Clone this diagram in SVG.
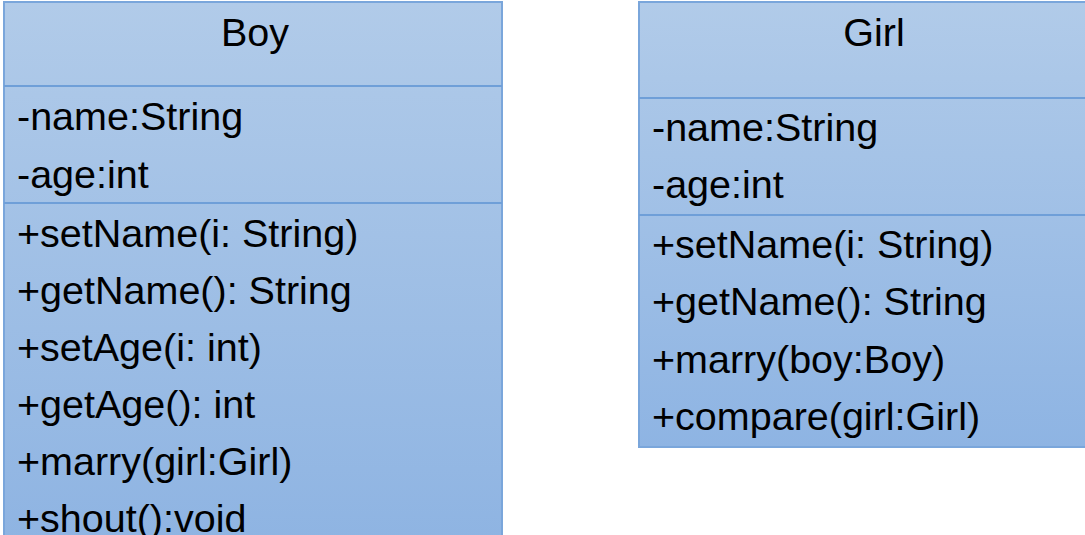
<svg xmlns="http://www.w3.org/2000/svg" width="1085" height="535" viewBox="0 0 1085 535">
<defs>
<linearGradient id="fillBoy" x1="0" y1="0" x2="0" y2="1">
<stop offset="0" stop-color="#B1CBE9"/>
<stop offset="1" stop-color="#8DB3E2"/>
</linearGradient>
<linearGradient id="fillGirl" x1="0" y1="0" x2="0" y2="1">
<stop offset="0" stop-color="#B1CBE9"/>
<stop offset="1" stop-color="#8EB4E3"/>
</linearGradient>
</defs>
<style>
.box{stroke:#7AA6DB;stroke-width:2}
.div{stroke:#6F9FD8;stroke-width:2}
text{font-family:"Liberation Sans",Arial,sans-serif;font-size:39.5px;fill:#000}
.title{text-anchor:middle}
</style>
<rect width="1085" height="535" fill="#FFFFFF"/>
<g id="Boy">
<rect class="box" x="4" y="2" width="498" height="560" fill="url(#fillBoy)"/>
<line class="div" x1="4" y1="86" x2="502" y2="86"/>
<line class="div" x1="4" y1="203" x2="502" y2="203"/>
<text class="title" x="255" y="46">Boy</text>
<text x="17" y="130">-name:String</text>
<text x="17" y="188">-age:int</text>
<text x="17" y="247">+setName(i: String)</text>
<text x="17" y="304">+getName(): String</text>
<text x="17" y="361">+setAge(i: int)</text>
<text x="17" y="418">+getAge(): int</text>
<text x="17" y="475">+marry(girl:Girl)</text>
<text x="17" y="532">+shout():void</text>
</g>
<g id="Girl">
<rect class="box" x="639" y="2" width="470" height="445" fill="url(#fillGirl)"/>
<line class="div" x1="639" y1="98" x2="1109" y2="98"/>
<line class="div" x1="639" y1="215" x2="1109" y2="215"/>
<text class="title" x="874" y="46">Girl</text>
<text x="652" y="141">-name:String</text>
<text x="652" y="198">-age:int</text>
<text x="652" y="258">+setName(i: String)</text>
<text x="652" y="315">+getName(): String</text>
<text x="652" y="373">+marry(boy:Boy)</text>
<text x="652" y="430">+compare(girl:Girl)</text>
</g>
<g id="connectors"></g>
</svg>
